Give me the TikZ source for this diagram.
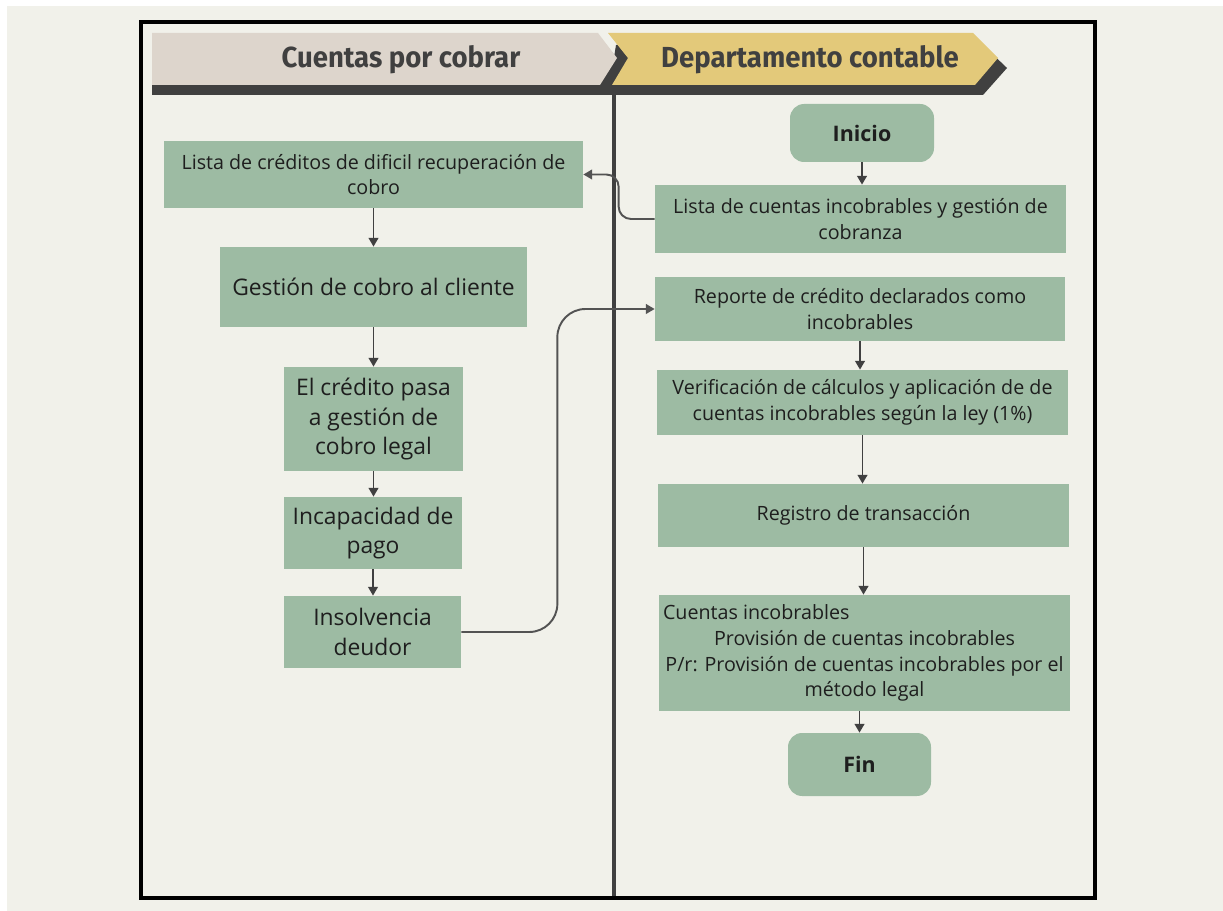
\documentclass[tikz,border=0pt]{standalone}
\usepackage{xcolor}
\usepackage{fontspec}
\usepackage{tikz}
\usetikzlibrary{positioning, arrows.meta}

\setmainfont{Open Sans}
\newfontfamily\headfont{Fira Sans}[FakeStretch=0.95]

\definecolor{paper}{HTML}{F1F1EA}
\definecolor{boxgreen}{HTML}{9DBBA3}
\definecolor{laneone}{HTML}{DDD5CC}
\definecolor{lanetwo}{HTML}{E3C97A}
\definecolor{darkline}{HTML}{404040}
\definecolor{ink}{HTML}{1E1E1E}

\newcommand\smalltxt{\fontsize{11.2pt}{14.7pt}\selectfont}
\newcommand\bigtxt{\fontsize{13pt}{17pt}\selectfont}

\begin{document}
\begin{tikzpicture}[
    x=0.02cm, y=-0.02cm,
    box/.style={fill=boxgreen, inner sep=0pt, align=center, text=ink, font=\smalltxt},
    bigbox/.style={box, font=\bigtxt},
    startend/.style={box, rounded corners=8pt, font=\fontsize{12.2pt}{14pt}\selectfont\bfseries},
    sz/.style 2 args={minimum width=#1*0.02cm, minimum height=#2*0.02cm},
    arr/.style={draw=darkline, line width=1.1pt, -{Triangle[length=5pt, width=5.5pt]}},
    link/.style={arr, draw=darkline!90},
    lanetext/.style={text=darkline, font=\headfont\fontsize{16.5pt}{18pt}\selectfont\bfseries}
]
\useasboundingbox (0,0) rectangle (1223,911);
\fill[white] (0,0) rectangle (1223,911);
\fill[paper] (7,6) rectangle (1223,911);

% lanes
\fill[darkline] (152,45) -- (606,45) -- (625,68) -- (608,95) -- (152,95) -- cycle;
\fill[darkline] (616,45) -- (983,45) -- (1007,68) -- (983,95) -- (608,95) -- cycle;
\fill[laneone] (152,33) -- (598,33) -- (617,58) -- (600,85) -- (152,85) -- cycle;
\fill[lanetwo] (608,33) -- (973,33) -- (998,58) -- (975,85) -- (612,85) -- (628,58) -- cycle;
\node[lanetext] (lane1) at (401,60) {Cuentas por cobrar};
\node[lanetext] (lane2) at (810,60) {Departamento contable};
\draw[darkline, line width=2.3pt] (614,85) -- (614,898);
\draw[black, line width=2.6pt] (141,22) rectangle (1095,898);

% cuentas por cobrar
\node[box, sz={419}{67}] (cred) at (373.5,174.5) {Lista de créditos de dificil recuperación de\\cobro};
\node[bigbox, sz={307}{80}] (gest) at (373.5,287) {Gestión de cobro al cliente};
\node[bigbox, sz={179}{104}] (legal) at (373.5,419) {El crédito pasa\\a gestión de\\cobro legal};
\node[bigbox, sz={178}{72}] (incap) at (373,533) {Incapacidad de\\pago};
\node[bigbox, sz={177}{72}] (insol) at (372.5,632) {Insolvencia\\deudor};

% departamento contable
\node[startend, sz={144}{58}] (inicio) at (862,133) {Inicio};
\node[box, sz={411}{68}] (lista) at (860.5,219) {Lista de cuentas incobrables y gestión de\\cobranza};
\node[box, sz={410}{64}] (reporte) at (860,309) {Reporte de crédito declarados como\\incobrables};
\node[box, sz={411}{65}] (verif) at (862.5,402.5) {Verificación de cálculos y aplicación de de\\cuentas incobrables según la ley (1\%)};
\node[box, sz={411}{63}] (registro) at (863.5,515.5) {Registro de transacción};
\node[box, sz={411}{116}] (asiento) at (864.5,653) {\makebox[8.06cm][l]{Cuentas incobrables}\\Provisión de cuentas incobrables\\P/r: Provisión de cuentas incobrables por el\\método legal};
\node[startend, sz={143}{63}] (fin) at (859.5,764.5) {Fin};

% flechas
\draw[arr] (cred.south) -- (cred.south |- gest.north);
\draw[arr] (gest.south) -- (gest.south |- legal.north);
\draw[arr] (legal.south) -- (legal.south |- incap.north);
\draw[arr] (incap.south) -- (incap.south |- insol.north);
\draw[arr] (inicio.south) -- (inicio.south |- lista.north);
\draw[arr] (reporte.south) -- (reporte.south |- verif.north);
\draw[arr] (verif.south) -- (verif.south |- registro.north);
\draw[arr] (registro.south) -- (registro.south |- asiento.north);
\draw[arr] (asiento.south -| fin) -- (fin.north);
\draw[link, rounded corners=7pt] (lista.west) -- ++(-36,0) |- (cred.east);
\draw[link, rounded corners=16pt] (insol.east) -- ++(96,0) |- (reporte.west);
\end{tikzpicture}
\end{document}
